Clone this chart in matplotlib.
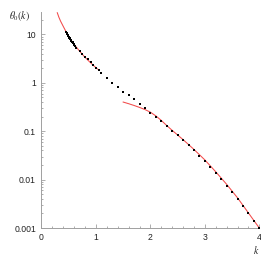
import matplotlib
matplotlib.use("Agg")
import matplotlib.pyplot as plt
from matplotlib.ticker import FixedLocator, FixedFormatter, MultipleLocator

# --- data ---
dot_k = [0.45, 0.46, 0.47, 0.48, 0.49, 0.50, 0.51, 0.52, 0.53, 0.54, 0.55,
         0.56, 0.57, 0.58, 0.59, 0.60, 0.62, 0.64, 0.70, 0.75, 0.80, 0.85,
         0.90, 0.95, 1.00, 1.05, 1.10, 1.20, 1.30, 1.40, 1.50, 1.60, 1.70,
         1.80, 1.90, 2.00, 2.10, 2.20, 2.30, 2.40, 2.50, 2.60, 2.70, 2.80,
         2.90, 3.00, 3.10, 3.20, 3.30, 3.40, 3.50, 3.60, 3.70, 3.80, 3.90, 4.00]
dot_v = [11.2, 10.7, 10.2, 9.8, 9.4, 9.0, 8.6, 8.3, 7.9, 7.6, 7.3,
         7.0, 6.8, 6.5, 6.3, 6.1, 5.7, 5.3, 4.5, 3.95, 3.45, 3.05,
         2.7, 2.35, 2.05, 1.8, 1.6, 1.26, 0.99, 0.82, 0.66, 0.55, 0.46,
         0.37, 0.30, 0.24, 0.196, 0.159, 0.129, 0.102, 0.083, 0.0655, 0.0515, 0.040,
         0.0314, 0.024, 0.0181, 0.0136, 0.0102, 0.0075, 0.0055, 0.0040, 0.00285, 0.00201, 0.00142, 0.001]

small_k = [0.29, 0.32, 0.35, 0.40, 0.45, 0.50, 0.55, 0.60, 0.70, 0.80, 0.90, 1.00, 1.03]
small_v = [28.0, 22.5, 18.8, 14.6, 11.4, 9.1, 7.4, 6.2, 4.5, 3.35, 2.6, 2.05, 1.92]

large_k = [1.50, 1.60, 1.70, 1.80, 1.90, 2.00, 2.10, 2.20, 2.30, 2.40, 2.60, 2.80,
           3.00, 3.20, 3.40, 3.60, 3.80, 3.90, 4.00]
large_v = [0.40, 0.37, 0.34, 0.310, 0.280, 0.247, 0.207, 0.167, 0.131, 0.104, 0.067, 0.042,
           0.0255, 0.0145, 0.0080, 0.0042, 0.00205, 0.00143, 0.001]

xticks = [0, 1, 2, 3, 4]
xtick_labels = ["0", "1", "2", "3", "4"]
yticks = [0.001, 0.01, 0.1, 1, 10]
ytick_labels = ["0.001", "0.01", "0.1", "1", "10"]

plt.rcParams['font.family'] = ['Liberation Sans', 'DejaVu Sans']
plt.rcParams['mathtext.fontset'] = 'stix'

fig = plt.figure(figsize=(2.61, 2.61), dpi=100)
ax = fig.add_axes([0.159, 0.1264, 0.8345, 0.8276])

red = '#f24a4a'
ax.plot(small_k, small_v, color=red, lw=0.75, clip_on=False, zorder=2)
ax.plot(large_k, large_v, color=red, lw=0.75, clip_on=False, zorder=2)
ax.plot(dot_k, dot_v, 's', color='black', ms=1.8, mew=0, clip_on=False, zorder=3)

ax.set_yscale('log')
ax.set_xlim(0, 4)
ax.set_ylim(0.001, 29)

for s in ['top', 'right']:
    ax.spines[s].set_visible(False)
for s in ['left', 'bottom']:
    ax.spines[s].set_color('#a0a0a0')
    ax.spines[s].set_linewidth(0.7)

ax.xaxis.set_major_locator(FixedLocator(xticks))
ax.xaxis.set_major_formatter(FixedFormatter(xtick_labels))
ax.xaxis.set_minor_locator(MultipleLocator(0.2))
ax.yaxis.set_major_locator(FixedLocator(yticks))
ax.yaxis.set_major_formatter(FixedFormatter(ytick_labels))
minor_y = [m * 10.0**e for e in range(-3, 2) for m in range(2, 10)]
ax.yaxis.set_minor_locator(FixedLocator(minor_y))
ax.yaxis.set_minor_formatter(FixedFormatter([""] * len(minor_y)))

ax.tick_params(which='both', direction='in', color='#a0a0a0', width=0.6,
               labelsize=6.2, labelcolor='#222222')
ax.tick_params(which='major', length=3.0)
ax.tick_params(which='minor', length=1.6)
ax.tick_params(axis='x', pad=3.5)
ax.tick_params(axis='y', pad=4)

fig.text(0.075, 0.94, r'$\theta_0(k)$', fontsize=7, ha='center', va='center', color='#222222')
fig.text(0.983, 0.042, r'$k$', fontsize=7, ha='center', va='center', color='#222222')

fig.savefig('out.png', dpi=100)
